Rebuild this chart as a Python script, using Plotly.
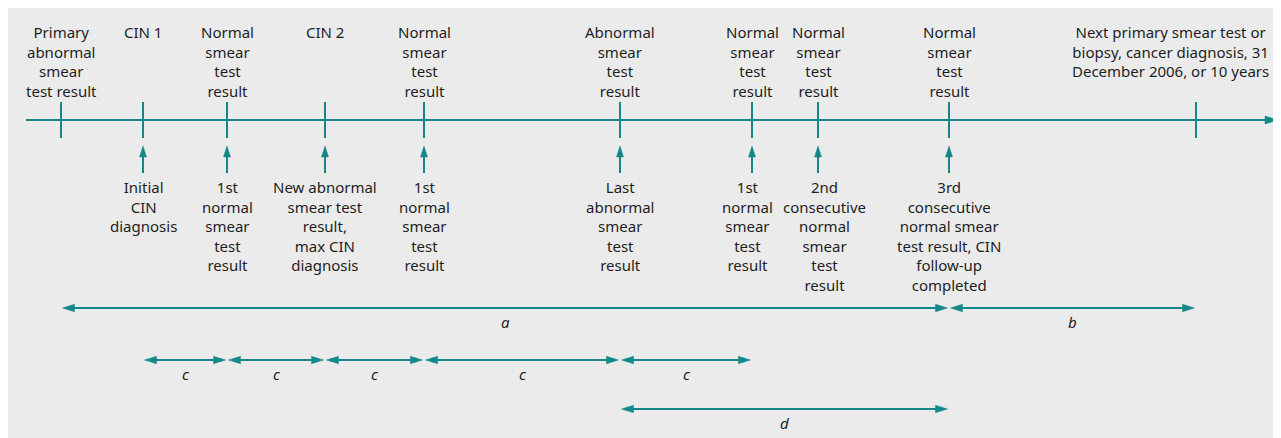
import plotly.graph_objects as go

# ---------------- data ----------------
# positions of events along the timeline
event_pos = [61, 143, 227, 325, 424, 620, 752, 818, 949, 1196]

top_labels = [
    "Primary<br>abnormal<br>smear<br>test result",
    "CIN 1",
    "Normal<br>smear<br>test<br>result",
    "CIN 2",
    "Normal<br>smear<br>test<br>result",
    "Abnormal<br>smear<br>test<br>result",
    "Normal<br>smear<br>test<br>result",
    "Normal<br>smear<br>test<br>result",
    "Normal<br>smear<br>test<br>result",
    "Next primary smear test or<br>biopsy, cancer diagnosis, 31<br>December 2006, or 10 years",
]

bottom_labels = [
    None,
    "Initial<br>CIN<br>diagnosis",
    "1st<br>normal<br>smear<br>test<br>result",
    "New abnormal<br>smear test<br>result,<br>max CIN<br>diagnosis",
    "1st<br>normal<br>smear<br>test<br>result",
    "Last<br>abnormal<br>smear<br>test<br>result",
    "1st<br>normal<br>smear<br>test<br>result",
    "2nd<br>consecutive<br>normal<br>smear<br>test<br>result",
    "3rd<br>consecutive<br>normal smear<br>test result, CIN<br>follow-up<br>completed",
    None,
]

# intervals: label, start event index, end event index, row
interval_labels = ["a", "b", "c", "c", "c", "c", "c", "d"]
interval_start = [0, 8, 1, 2, 3, 4, 5, 5]
interval_end = [8, 9, 2, 3, 4, 5, 6, 8]
interval_row = [0, 0, 1, 1, 1, 1, 1, 2]

# ---------------- style ----------------
TEAL = "#148888"
BG = "#EBEBEB"
TXT = "#1e1e1e"
FONT = "Noto Sans"
FS = 15

W, H = 1281, 438
OFF = 8  # page offset of the figure (body margin)

axis_y = 120
tick_half = 18
line_start = 26
line_end = 1278
up_tip, up_base = 146, 173
row_y = {0: 308, 1: 360, 2: 409}
head_len, head_h = 12, 7.5
gap = 1.5
top_label_y = 19.5
bottom_label_y = 174.5
top_shift = {9: -26}
bottom_shift = {6: -5, 7: 6}

fig = go.Figure()

def tri_right(xt, y, L, h):
    return [xt, xt - L, xt - L, xt, None], [y, y - h / 2, y + h / 2, y, None]

def tri_left(xt, y, L, h):
    return [xt, xt + L, xt + L, xt, None], [y, y - h / 2, y + h / 2, y, None]

def tri_up(x, yt, L, h):
    return [x, x - h / 2, x + h / 2, x, None], [yt, yt + L, yt + L, yt, None]

lx, ly = [], []
hx, hy = [], []

# main timeline
lx += [line_start, line_end - 12, None]
ly += [axis_y, axis_y, None]
a, b = tri_right(line_end, axis_y, 13, 8)
hx += a; hy += b

# ticks and up arrows
for i, p in enumerate(event_pos):
    lx += [p, p, None]
    ly += [axis_y - tick_half, axis_y + tick_half, None]
    if bottom_labels[i]:
        lx += [p, p, None]
        ly += [up_tip + 8, up_base, None]
        a, b = tri_up(p, up_tip, 11, 7)
        hx += a; hy += b

# intervals
for lab, s, e, r in zip(interval_labels, interval_start, interval_end, interval_row):
    xs = event_pos[s] + gap
    xe = event_pos[e] - gap
    y = row_y[r]
    lx += [xs + head_len - 1, xe - head_len + 1, None]
    ly += [y, y, None]
    a, b = tri_right(xe, y, head_len, head_h)
    hx += a; hy += b
    a, b = tri_left(xs, y, head_len, head_h)
    hx += a; hy += b
    fig.add_annotation(x=(event_pos[s] + event_pos[e]) / 2, y=y + 1.5, text=lab,
                       showarrow=False, yanchor="top", xanchor="center",
                       font=dict(family=FONT, size=FS, color=TXT, style="italic"))

fig.add_trace(go.Scatter(x=lx, y=ly, mode="lines", line=dict(color=TEAL, width=2),
                         hoverinfo="skip", showlegend=False))
fig.add_trace(go.Scatter(x=hx, y=hy, mode="lines", fill="toself", fillcolor=TEAL,
                         line=dict(color=TEAL, width=0.5), hoverinfo="skip", showlegend=False))

for i, p in enumerate(event_pos):
    fig.add_annotation(x=p + top_shift.get(i, 0), y=top_label_y, text=top_labels[i],
                       showarrow=False, yanchor="top", xanchor="center", align="center",
                       font=dict(family=FONT, size=FS, color=TXT))
    if bottom_labels[i]:
        fig.add_annotation(x=p + bottom_shift.get(i, 0), y=bottom_label_y, text=bottom_labels[i],
                           showarrow=False, yanchor="top", xanchor="center", align="center",
                           font=dict(family=FONT, size=FS, color=TXT))

fig.update_layout(
    width=W, height=H,
    margin=dict(l=0, t=0, r=0, b=0),
    paper_bgcolor=BG, plot_bgcolor=BG,
    xaxis=dict(range=[OFF, W + OFF], visible=False, fixedrange=True),
    yaxis=dict(range=[H + OFF, OFF], visible=False, fixedrange=True),
    showlegend=False,
)

fig.write_html("out.html")
